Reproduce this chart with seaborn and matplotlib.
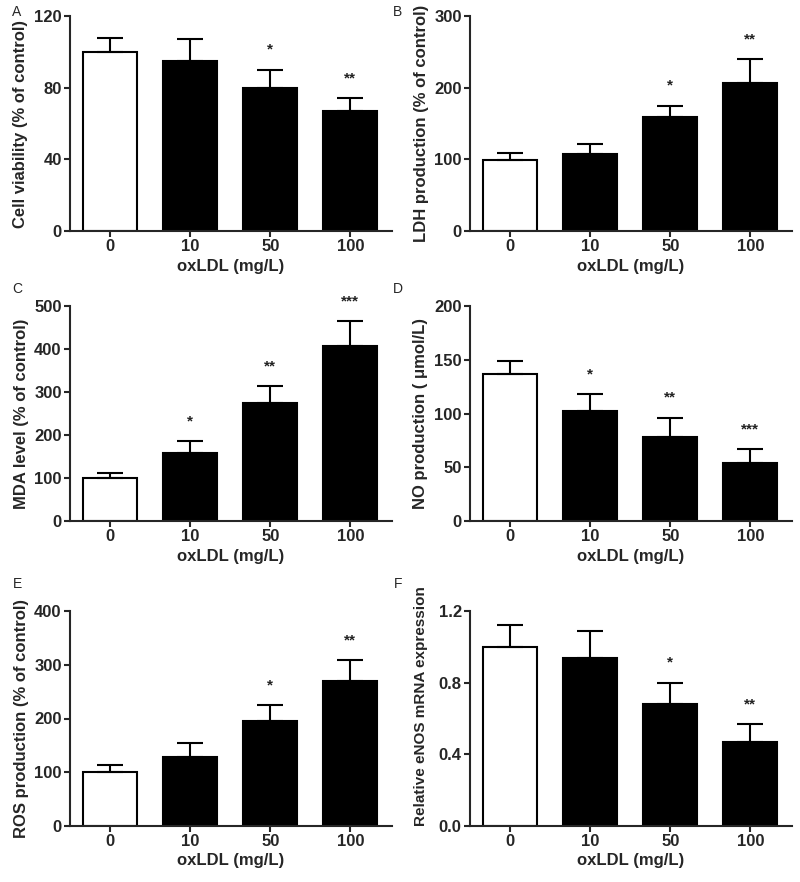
import numpy as np
import pandas as pd
import matplotlib
matplotlib.use("Agg")
import matplotlib.pyplot as plt
import seaborn as sns

sns.set_style("ticks")
plt.rcParams['font.family'] = ['Liberation Sans', 'DejaVu Sans']

doses = ["0", "10", "50", "100"]

# panel values (mean, upper error length)
viability = [100, 95, 80, 67]
viability_err = [8, 12, 10, 7]
viability_stars = ["", "", "*", "**"]

ldh = [99, 107, 159, 207]
ldh_err = [10, 14, 16, 33]
ldh_stars = ["", "", "*", "**"]

mda = [100, 158, 274, 407]
mda_err = [11, 27, 39, 57]
mda_stars = ["", "*", "**", "***"]

no_prod = [137, 102, 78, 54]
no_err = [12, 16, 18, 13]
no_stars = ["", "*", "**", "***"]

ros = [100, 129, 196, 269]
ros_err = [13, 25, 29, 40]
ros_stars = ["", "", "*", "**"]

enos = [1.0, 0.94, 0.68, 0.47]
enos_err = [0.12, 0.15, 0.12, 0.10]
enos_stars = ["", "", "*", "**"]

panels = [
    ("A", viability, viability_err, viability_stars, "Cell viability (% of control)", 120, [0, 40, 80, 120], "{:.0f}"),
    ("B", ldh, ldh_err, ldh_stars, "LDH production (% of control)", 300, [0, 100, 200, 300], "{:.0f}"),
    ("C", mda, mda_err, mda_stars, "MDA level (% of control)", 500, [0, 100, 200, 300, 400, 500], "{:.0f}"),
    ("D", no_prod, no_err, no_stars, "NO production ( \u03bcmol/L)", 200, [0, 50, 100, 150, 200], "{:.0f}"),
    ("E", ros, ros_err, ros_stars, "ROS production (% of control)", 400, [0, 100, 200, 300, 400], "{:.0f}"),
    ("F", enos, enos_err, enos_stars, "Relative eNOS mRNA expression", 1.2, [0, 0.4, 0.8, 1.2], "{:.1f}"),
]

fig = plt.figure(figsize=(8, 8.82), dpi=100)
W, H = 800, 882
lefts = [70, 470]
bottoms_px = [231, 521, 826]
tops_px = [16, 306, 611]
letter_y = [12, 289, 584]

for i, (letter, vals, errs, stars, ylab, ymax, yticks, fmt) in enumerate(panels):
    row, col = i // 2, i % 2
    left = lefts[col] / W
    bottom = (H - bottoms_px[row]) / H
    height = (bottoms_px[row] - tops_px[row]) / H
    ax = fig.add_axes([left, bottom, 322 / W, height])

    df = pd.DataFrame({"dose": doses, "value": vals})
    sns.barplot(data=df, x="dose", y="value", hue="dose", order=doses,
                palette=["white", "black", "black", "black"], legend=False,
                edgecolor="black", linewidth=1.5, width=0.675, ax=ax)
    ax.errorbar(range(4), vals, yerr=[np.zeros(4), errs], fmt="none",
                ecolor="black", elinewidth=1.5, capsize=9.5, capthick=1.5)

    for j, s in enumerate(stars):
        if s:
            ax.text(j, vals[j] + errs[j] + ymax * 0.06, s, ha="center", va="bottom",
                    fontsize=11, fontweight="bold", color="#222222")

    ax.set_xlim(-0.5, 3.52)
    ax.set_ylim(0, ymax)
    ax.set_yticks(yticks)
    ax.set_yticklabels([fmt.format(t) for t in yticks])
    ax.set_xlabel("oxLDL (mg/L)", fontsize=12, fontweight="bold", labelpad=3)
    if letter == "F":
        # this label is squeezed in the original
        ax.set_ylabel(ylab, fontsize=11, fontweight="bold")
        ax.yaxis.set_label_coords(-0.13, 0.56)
    else:
        ax.set_ylabel(ylab, fontsize=12, fontweight="bold", labelpad=4)
    ax.tick_params(axis="both", labelsize=12, width=1.5, length=4, pad=2)
    for lab in ax.get_xticklabels() + ax.get_yticklabels():
        lab.set_fontweight("bold")
    for sp in ["left", "bottom"]:
        ax.spines[sp].set_linewidth(1.5)
    sns.despine(ax=ax)

    lx = 17 if col == 0 else 398
    fig.text(lx / W, 1 - letter_y[row] / H, letter, fontsize=10, ha="center", va="center")

fig.savefig("out.png", dpi=100)
